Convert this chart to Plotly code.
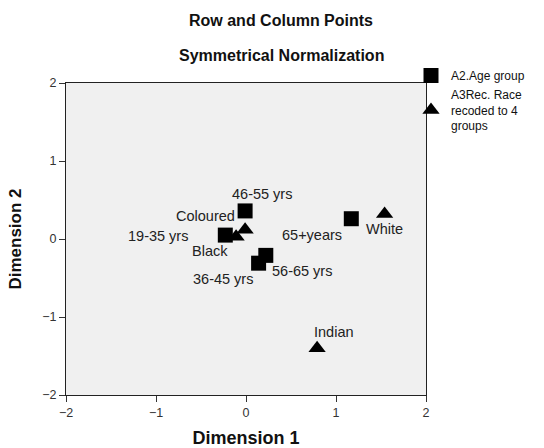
import plotly.graph_objects as go

# Data
age_labels = ["19-35 yrs", "36-45 yrs", "46-55 yrs", "56-65 yrs", "65+years"]
age_dim1 = [-0.23, 0.14, -0.01, 0.22, 1.17]
age_dim2 = [0.05, -0.31, 0.36, -0.21, 0.26]

race_labels = ["Black", "Coloured", "White", "Indian"]
race_dim1 = [-0.11, -0.01, 1.54, 0.79]
race_dim2 = [0.03, 0.12, 0.32, -1.40]

tick_vals = [-2, -1, 0, 1, 2]

# label offsets (pixels) for placement of point labels
age_label_shift = [(-67, -1), (-36, -16), (17, 17), (36, -16), (-39, -16)]
race_label_shift = [(-26, -14), (-40, 14), (0, -15), (17, 16)]

FONT = "Liberation Sans, Arial, sans-serif"

W, H = 544, 448
L, R, T, B = 66, 118, 83, 53
pw, ph = W - L - R, H - T - B


def px_to_paper(xp, yp):
    return (xp - L) / pw, 1 + (T - yp) / ph


fig = go.Figure()
fig.add_trace(go.Scatter(
    x=age_dim1, y=age_dim2, mode="markers", name="A2.Age group",
    marker=dict(symbol="square", size=15, color="black"),
))
fig.add_trace(go.Scatter(
    x=race_dim1, y=race_dim2, mode="markers", name="A3Rec. Race<br>recoded to 4<br>groups",
    marker=dict(symbol="triangle-up", size=15, color="black"),
))

annotations = []
lab_font = dict(family=FONT, size=14.5, color="#222")
for lab, x, y, (dx, dy) in zip(age_labels, age_dim1, age_dim2, age_label_shift):
    annotations.append(dict(x=x, y=y, xref="x", yref="y", text=lab, showarrow=False,
                            xanchor="center", yanchor="middle",
                            xshift=dx, yshift=dy, font=lab_font))
for lab, x, y, (dx, dy) in zip(race_labels, race_dim1, race_dim2, race_label_shift):
    annotations.append(dict(x=x, y=y, xref="x", yref="y", text=lab, showarrow=False,
                            xanchor="center", yanchor="middle",
                            xshift=dx, yshift=dy, font=lab_font))

for txt, yp in [("<b>Row and Column Points</b>", 20), ("<b>Symmetrical Normalization</b>", 55)]:
    px, py = px_to_paper(281, yp)
    annotations.append(dict(x=px, y=py, xref="paper", yref="paper", text=txt, showarrow=False,
                            xanchor="center", yanchor="middle",
                            font=dict(family=FONT, size=16, color="#111")))

lx, ly = px_to_paper(411, 61)

fig.update_layout(
    width=W, height=H,
    margin=dict(l=L, r=R, t=T, b=B, autoexpand=False),
    paper_bgcolor="white",
    plot_bgcolor="#f0f0f0",
    font=dict(family=FONT, size=12, color="#333"),
    showlegend=True,
    legend=dict(x=lx, y=ly, xanchor="left", yanchor="top",
                font=dict(family=FONT, size=12, color="#111"),
                bgcolor="rgba(0,0,0,0)", tracegroupgap=0),
    annotations=annotations,
    xaxis=dict(range=[-2, 2], tickvals=tick_vals, showgrid=False, zeroline=False, automargin=False,
               showline=True, linecolor="#222", linewidth=1, mirror=True,
               ticks="outside", ticklen=6, tickcolor="#333",
               tickfont=dict(family=FONT, size=12.5, color="#333"),
               title=dict(text="<b>Dimension 1</b>", font=dict(family=FONT, size=18, color="#111"), standoff=14)),
    yaxis=dict(range=[-2, 2], tickvals=tick_vals, showgrid=False, zeroline=False, automargin=False,
               showline=True, linecolor="#222", linewidth=1, mirror=True,
               ticks="outside", ticklen=6, tickcolor="#333",
               tickfont=dict(family=FONT, size=12.5, color="#333"),
               title=dict(text="<b>Dimension 2</b>", font=dict(family=FONT, size=17, color="#111"), standoff=16)),
)

fig.write_html("out.html", config={"displayModeBar": False},
               post_script="document.body.style.margin='0';document.body.style.overflow='hidden';")
